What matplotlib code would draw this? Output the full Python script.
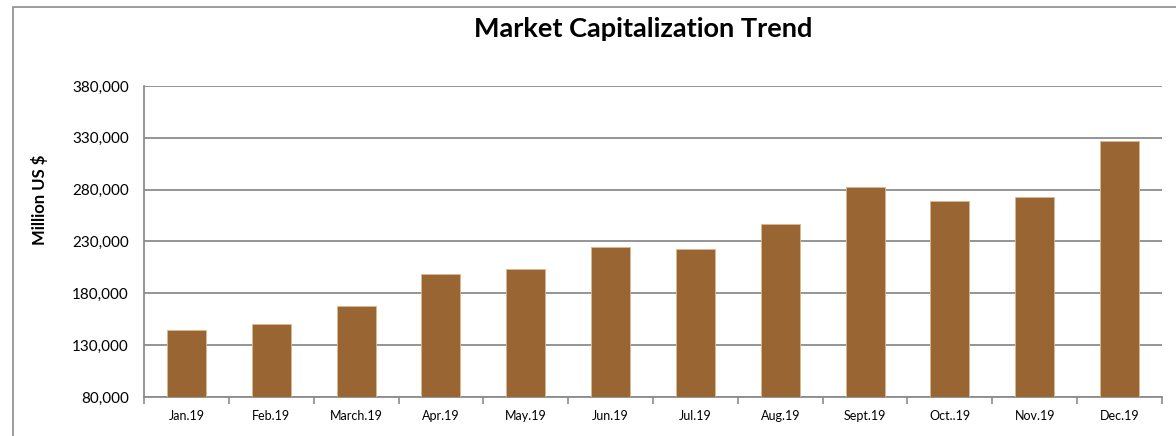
import matplotlib
import matplotlib.pyplot as plt
import numpy as np
from matplotlib.patches import Rectangle
from matplotlib.ticker import FuncFormatter

matplotlib.use("Agg")

plt.rcParams["font.family"] = ["Lato", "DejaVu Sans"]

MONTHS = ["Jan.19", "Feb.19", "March.19", "Apr.19", "May.19", "Jun.19",
          "Jul.19", "Aug.19", "Sept.19", "Oct..19", "Nov.19", "Dec.19"]
MARKET_CAP = [144600, 150400, 168100, 198300, 203500, 224400,
              222800, 247200, 282300, 268800, 272900, 326900]
Y_TICKS = [80000, 130000, 180000, 230000, 280000, 330000, 380000]

BAR_COLOR = "#996633"
GRID_COLOR = "#8c8c8c"

fig = plt.figure(figsize=(11.76, 4.36), dpi=100)
ax = fig.add_axes([144 / 1176, 39 / 436, 1018 / 1176, 311 / 436])

x = np.arange(len(MONTHS))
ax.bar(x, MARKET_CAP, width=0.46, bottom=0, color=BAR_COLOR,
       edgecolor="#d9b88f", linewidth=0.6, zorder=3)

ax.set_xlim(-0.5, len(MONTHS) - 0.5)
ax.set_ylim(80000, 380000)
ax.set_yticks(Y_TICKS)
ax.yaxis.set_major_formatter(FuncFormatter(lambda v, _: f"{int(v):,}"))
ax.set_xticks(x)
ax.set_xticklabels(MONTHS)
ax.set_xticks(np.arange(-0.5, len(MONTHS)), minor=True)

ax.grid(axis="y", color=GRID_COLOR, linewidth=1.3, zorder=0)
for side in ["top", "right"]:
    ax.spines[side].set_visible(False)
for side in ["left", "bottom"]:
    ax.spines[side].set_color(GRID_COLOR)
    ax.spines[side].set_linewidth(1.3)

ax.tick_params(axis="y", length=0, pad=11, labelsize=11, colors="black")
ax.tick_params(axis="x", which="major", length=0, pad=9, labelsize=9)
ax.tick_params(axis="x", which="minor", length=5, width=1.2, color=GRID_COLOR)

# y-axis title sits above the axes centre in the original
fig.text(40 / 1176, 1 - 200 / 436, "Million US $", rotation=90,
         ha="center", va="center", fontsize=12, fontweight="bold")

fig.text(643 / 1176, 1 - 29 / 436, "Market Capitalization Trend",
         ha="center", va="center", fontsize=19.5, fontweight="bold")

# outer chart border, cropped on right and bottom
border = Rectangle((13 / 1176, -0.1), 1.2, 1 - 7 / 436 + 0.1,
                   transform=fig.transFigure, fill=False,
                   edgecolor="#8c8c8c", linewidth=1.2, clip_on=False)
fig.add_artist(border)

fig.savefig("out.png", dpi=100)
plt.close(fig)
